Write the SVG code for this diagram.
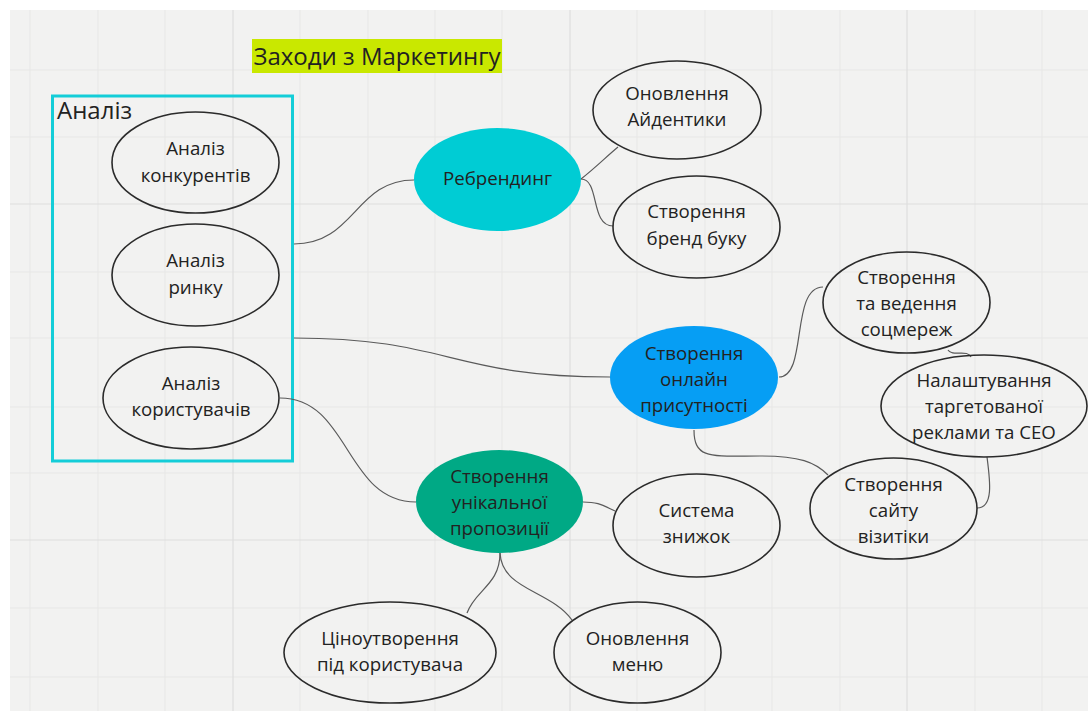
<svg xmlns="http://www.w3.org/2000/svg" width="1088" height="711" viewBox="0 0 1088 711">
<style>
.grid{stroke:#e7e7e6;stroke-width:1}
.major{stroke:#dedede;stroke-width:1.2}
.node{fill:none;stroke:#2b2b2b;stroke-width:1.6}
.t{font-family:"Open Sans","Noto Sans","DejaVu Sans",sans-serif;font-size:18.7px;fill:#222;text-anchor:middle}
.conn{fill:none;stroke:#5a5a5a;stroke-width:1.2}
</style>
<rect x="0" y="0" width="1088" height="711" fill="#ffffff"/>
<rect x="10" y="10" width="1078" height="701" fill="#f2f2f1"/>
<g id="grid">
<path class="grid" d="M30,10V711M98,10V711M165,10V711M300,10V711M368,10V711M435,10V711M502,10V711M637,10V711M705,10V711M772,10V711M840,10V711M975,10V711M1042,10V711"/>
<path class="grid" d="M10,70H1088M10,137H1088M10,272H1088M10,338H1088M10,407H1088M10,473H1088M10,608H1088M10,677H1088"/>
<path class="major" d="M233,10V711M570,10V711M907,10V711M10,204H1088M10,540H1088"/>
</g>
<g id="title">
<rect x="252" y="39" width="250" height="34" fill="#c9e800"/>
<text x="377" y="65" font-family="Open Sans, Noto Sans, sans-serif" font-size="24" fill="#222" text-anchor="middle">Заходи з Маркетингу</text>
</g>
<g id="analysis-frame">
<rect x="52.5" y="96" width="240" height="365" fill="none" stroke="#14cdd8" stroke-width="3"/>
<text x="57" y="119" font-family="Open Sans, Noto Sans, sans-serif" font-size="24" fill="#222">Аналіз</text>
</g>
<g id="connectors">
<path class="conn" d="M294,244 C355,244 355,180 414,180"/>
<path class="conn" d="M294,338 C450,338 450,377 610,377"/>
<path class="conn" d="M280,398 C350,398 345,502 416,502"/>
<path class="conn" d="M581,179 C595,168 606,157 618,147"/>
<path class="conn" d="M581,179 C600,179 590,226 613,226"/>
<path class="conn" d="M779,377 C808,377 790,287 823,287"/>
<path class="conn" d="M948,350 C952,357 968,349 971,357"/>
<path class="conn" d="M694,430 C694,460 712,456 760,456 C800,456 815,462 828,475"/>
<path class="conn" d="M987,457 C990,480 994,508 977,508"/>
<path class="conn" d="M583,502 C598,502 602,505 615,511"/>
<path class="conn" d="M500,553 C500,585 475,590 467,613"/>
<path class="conn" d="M500,553 C502,590 550,590 572,620"/>
</g>
<g id="n-konkurenty">
<ellipse class="node" cx="195.5" cy="162.5" rx="83.5" ry="50.5"/>
<text class="t" x="195.5" y="155">Аналіз</text>
<text class="t" x="195.5" y="182">конкурентів</text>
</g>
<g id="n-rynok">
<ellipse class="node" cx="195.5" cy="275" rx="83.5" ry="51"/>
<text class="t" x="195.5" y="267">Аналіз</text>
<text class="t" x="195.5" y="294">ринку</text>
</g>
<g id="n-korystuvachi">
<ellipse class="node" cx="191" cy="398" rx="88" ry="51"/>
<text class="t" x="191" y="390">Аналіз</text>
<text class="t" x="191" y="416">користувачів</text>
</g>
<g id="n-rebrending">
<ellipse cx="497.5" cy="179.5" rx="83.5" ry="51.5" fill="#00ccd4"/>
<text class="t" x="497.5" y="185">Ребрендинг</text>
</g>
<g id="n-aidentyka">
<ellipse class="node" cx="677" cy="110" rx="84" ry="49"/>
<text class="t" x="677" y="100">Оновлення</text>
<text class="t" x="677" y="126">Айдентики</text>
</g>
<g id="n-brendbuk">
<ellipse class="node" cx="696.5" cy="227" rx="83.5" ry="51"/>
<text class="t" x="696.5" y="218">Створення</text>
<text class="t" x="696.5" y="245">бренд буку</text>
</g>
<g id="n-socmerezhi">
<ellipse class="node" cx="906.5" cy="302.5" rx="83.5" ry="50.5"/>
<text class="t" x="906.5" y="284">Створення</text>
<text class="t" x="906.5" y="310">та ведення</text>
<text class="t" x="906.5" y="336">соцмереж</text>
</g>
<g id="n-online">
<ellipse cx="694" cy="377.5" rx="84" ry="51.5" fill="#069ef4"/>
<text class="t" x="694" y="360">Створення</text>
<text class="t" x="694" y="386">онлайн</text>
<text class="t" x="694" y="412">присутності</text>
</g>
<g id="n-target">
<ellipse class="node" cx="984" cy="406" rx="103" ry="51"/>
<text class="t" x="984" y="387">Налаштування</text>
<text class="t" x="984" y="413">таргетованої</text>
<text class="t" x="984" y="439">реклами та СЕО</text>
</g>
<g id="n-sait">
<ellipse class="node" cx="893.5" cy="508.5" rx="83.5" ry="50.5"/>
<text class="t" x="893.5" y="491">Створення</text>
<text class="t" x="893.5" y="517">сайту</text>
<text class="t" x="893.5" y="543">візитіки</text>
</g>
<g id="n-unikalna">
<ellipse cx="499.5" cy="501.5" rx="83.5" ry="51.5" fill="#00a985"/>
<text class="t" x="499.5" y="483">Створення</text>
<text class="t" x="499.5" y="509">унікальної</text>
<text class="t" x="499.5" y="535">пропозиції</text>
</g>
<g id="n-znyzhky">
<ellipse class="node" cx="696.5" cy="525.5" rx="83.5" ry="51.5"/>
<text class="t" x="696.5" y="517">Система</text>
<text class="t" x="696.5" y="543">знижок</text>
</g>
<g id="n-tsinoutvorennia">
<ellipse class="node" cx="390" cy="652.5" rx="106" ry="50.5"/>
<text class="t" x="390" y="645">Ціноутворення</text>
<text class="t" x="390" y="671">під користувача</text>
</g>
<g id="n-menu">
<ellipse class="node" cx="637.5" cy="652.5" rx="83.5" ry="50.5"/>
<text class="t" x="637.5" y="645">Оновлення</text>
<text class="t" x="637.5" y="671">меню</text>
</g>
</svg>
